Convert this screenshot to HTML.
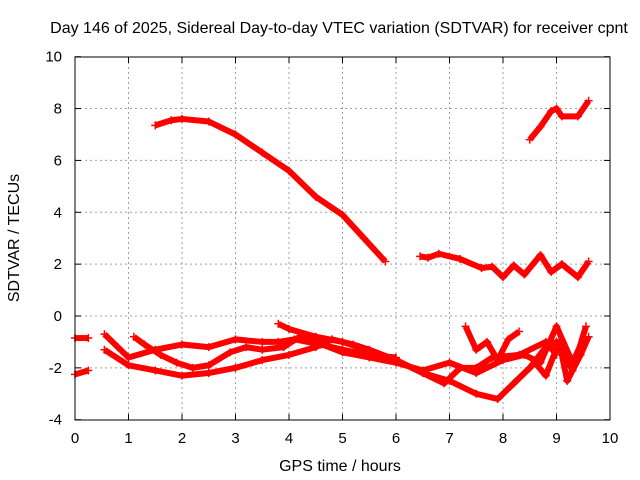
<!DOCTYPE html>
<html><head><meta charset="utf-8"><style>
body{margin:0;background:#fff}
svg{display:block;font-family:"Liberation Sans",sans-serif}
</style></head><body>
<svg id="chart" width="640" height="480">
<text x="339" y="33" text-anchor="middle" font-size="16">Day 146 of 2025, Sidereal Day-to-day VTEC variation (SDTVAR) for receiver cpnt</text>
<text x="340" y="471" text-anchor="middle" font-size="16">GPS time / hours</text>
<text transform="translate(19,238) rotate(-90)" text-anchor="middle" font-size="16">SDTVAR / TECUs</text>
<g id="grid"></g><g id="ticks"></g><g id="series"></g>
<rect x="75" y="57" width="535" height="363" fill="none" stroke="#000"/>
</svg>
<script>
const xTicks=[0,1,2,3,4,5,6,7,8,9,10];
const yTicks=[-4,-2,0,2,4,6,8,10];
const s1=[[1.5,7.35],[1.8,7.55],[2.0,7.6],[2.5,7.5],[3.0,7.0],[3.5,6.3],[4.0,5.6],[4.5,4.6],[5.0,3.9],[5.4,3.0],[5.8,2.1]];
const s2=[[6.45,2.3],[6.6,2.25],[6.8,2.4],[7.2,2.2],[7.6,1.85],[7.8,1.9],[8.0,1.5],[8.2,1.95],[8.4,1.6],[8.7,2.35],[8.9,1.7],[9.1,2.0],[9.4,1.5],[9.6,2.1]];
const s3=[[8.5,6.8],[8.7,7.3],[8.9,7.9],[9.0,8.0],[9.1,7.7],[9.4,7.7],[9.6,8.3]];
const s4=[[0,-0.85],[0.25,-0.85]];
const s5=[[0,-2.25],[0.25,-2.1]];
const s6=[[0.55,-0.7],[0.8,-1.2],[1.0,-1.6],[1.5,-1.3],[2.0,-1.1],[2.5,-1.2],[3.0,-0.9],[3.5,-1.0],[3.8,-1.0],[4.1,-0.9],[4.6,-1.1],[5.0,-1.3],[5.5,-1.5],[6.0,-1.7],[6.5,-2.2],[6.9,-2.6],[7.2,-2.0],[7.5,-2.0],[7.8,-1.6],[8.3,-1.5],[8.8,-1.0],[9.0,-1.5]];
const s7=[[0.55,-1.3],[1.0,-1.9],[1.5,-2.1],[2.0,-2.3],[2.5,-2.2],[3.0,-2.0],[3.5,-1.7],[4.0,-1.5],[4.5,-1.2],[4.8,-0.9],[5.2,-1.1],[5.5,-1.3],[6.0,-1.7],[6.5,-2.2],[7.0,-2.5],[7.5,-3.0],[7.9,-3.2],[8.2,-2.6],[8.5,-2.0],[8.8,-1.2],[9.0,-1.0],[9.3,-2.1],[9.55,-0.4]];
const s8=[[1.1,-0.8],[1.3,-1.1],[1.6,-1.5],[1.9,-1.8],[2.2,-2.0],[2.5,-1.9],[2.9,-1.4],[3.2,-1.2],[3.5,-1.3],[3.9,-1.2],[4.2,-0.8],[4.5,-1.0],[5.0,-1.4],[5.5,-1.6],[6.0,-1.8],[6.5,-2.1],[7.0,-1.8],[7.5,-2.2],[8.0,-1.7],[8.4,-1.5],[8.7,-1.8],[9.0,-0.4],[9.3,-1.8],[9.5,-0.9]];
const s9=[[3.8,-0.3],[4.0,-0.5],[4.5,-0.8],[5.0,-1.0],[5.3,-1.2],[5.5,-1.5],[6.0,-1.6]];
const s10=[[7.3,-0.4],[7.5,-1.3],[7.7,-1.0],[7.9,-1.7],[8.1,-0.9],[8.3,-0.6]];
const s11=[[8.2,-2.6],[8.6,-1.8],[8.8,-2.3],[9.05,-1.0],[9.2,-2.5],[9.45,-1.5],[9.6,-0.8]];
const allSeries=[s1,s2,s3,s4,s5,s6,s7,s8,s9,s10,s11];
const NS="http://www.w3.org/2000/svg";
const X=v=>75+v*53.5, Y=v=>316-v*25.93;
const grid=document.getElementById('grid'),ticks=document.getElementById('ticks'),ser=document.getElementById('series');
function mk(tag,attrs,parent){const e=document.createElementNS(NS,tag);for(const k in attrs)e.setAttribute(k,attrs[k]);parent.appendChild(e);return e;}
xTicks.forEach(t=>{
  if(t>0&&t<10){const g=mk('line',{x1:X(t),x2:X(t),y1:57,y2:420,stroke:'#a0a0a0','stroke-dasharray':'2,3'},grid);
  
  }
  const tl=mk('line',{x1:X(t),x2:X(t),y1:420,y2:414,stroke:'#000'},ticks);
  
  
  const tt=mk('line',{x1:X(t),x2:X(t),y1:57,y2:63,stroke:'#000'},ticks);
  
  
  const tx=mk('text',{x:X(t),y:443,'text-anchor':'middle','font-size':15},ticks);tx.textContent=t;
  
  
});
yTicks.forEach(t=>{
  if(t>-4&&t<10){const g=mk('line',{x1:75,x2:610,y1:Y(t),y2:Y(t),stroke:'#a0a0a0','stroke-dasharray':'2,3'},grid);
  
  }
  const tl=mk('line',{x1:75,x2:81,y1:Y(t),y2:Y(t),stroke:'#000'},ticks);
  
  
  const tr=mk('line',{x1:604,x2:610,y1:Y(t),y2:Y(t),stroke:'#000'},ticks);
  
  
  const tx=mk('text',{x:62,y:Y(t)+5,'text-anchor':'end','font-size':15},ticks);tx.textContent=t;
  
  
});
allSeries.forEach((s,i)=>{
  const pl=mk('polyline',{points:s.map(p=>X(p[0])+','+Y(p[1])).join(' '),fill:'none',stroke:'#f00','stroke-width':6,'stroke-linejoin':'round'},ser);
  
  
  s.forEach(p=>{
    const m=mk('path',{d:`M${X(p[0])-4},${Y(p[1])}h8M${X(p[0])},${Y(p[1])-4}v8`,stroke:'#f00','stroke-width':1.5},ser);
    
    
  });
});
</script>
</body></html>
